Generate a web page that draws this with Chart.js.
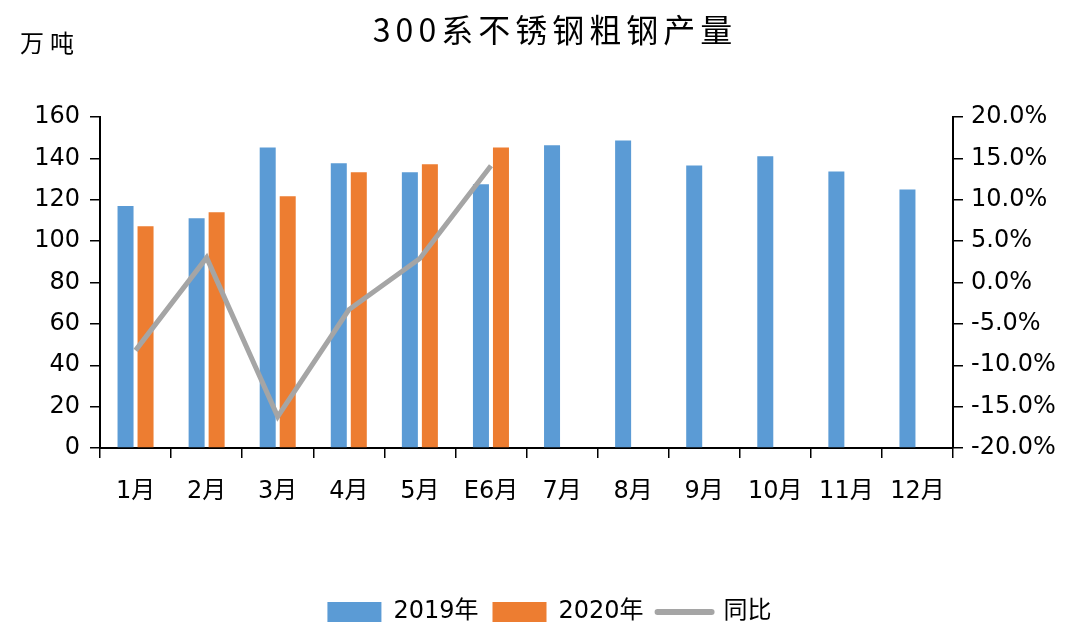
<!DOCTYPE html>
<html><head><meta charset="utf-8">
<script src="https://cdn.jsdelivr.net/npm/chart.js@4/dist/chart.umd.min.js"></script>
<style>html,body{margin:0;padding:0;background:#fff;}#wrap{width:1079px;height:627px;}</style>
</head><body><div id="wrap"><canvas id="c" width="1079" height="627"></canvas></div>
<script>
const chartTitle = '300系不锈钢粗钢产量';
const unitLabel = '万吨';
const categories = ['1月','2月','3月','4月','5月','E6月','7月','8月','9月','10月','11月','12月'];
const output2019 = [117, 111, 145.3, 137.6, 133.3, 127.5, 146.3, 148.7, 136.6, 141, 133.7, 125];
const output2020 = [107.2, 113.9, 121.7, 133.3, 137.1, 145.3, null, null, null, null, null, null];
const yoyPct = [-8.2, 3.0, -16.2, -3.3, 2.9, 14.1, null, null, null, null, null, null];
const seriesNames = ['2019年', '2020年', '同比'];
const leftMin = 0, leftMax = 160, leftStep = 20;
const rightMin = -20, rightMax = 20, rightStep = 5;

const FONT = "'DejaVu Sans', 'Noto Sans CJK SC', sans-serif";
const C_BLUE = '#5B9BD5', C_ORANGE = '#ED7D31', C_GRAY = '#A5A5A5';

const textPlugin = {
  id: 'textPlugin',
  afterLayout(chart) {
    if (chart.legend) {
      chart.legend.top += 7; chart.legend.bottom += 7;
      chart.legend.left += 10; chart.legend.right += 10;
    }
  },
  afterDraw(chart) {
    const ctx = chart.ctx;
    ctx.save();
    ctx.fillStyle = '#000';
    ctx.textBaseline = 'middle';
    ctx.textAlign = 'center';
    ctx.font = "32px 'Noto Sans CJK SC', sans-serif";
    ctx.letterSpacing = '5px';
    ctx.fillText(chartTitle, 555, 30);
    ctx.font = "24px 'Noto Sans CJK SC', sans-serif";
    ctx.letterSpacing = '6px';
    ctx.fillText(unitLabel, 50, 43);
    ctx.restore();
  }
};

const axisLine = {display: true, color: '#000', width: 2};

new Chart(document.getElementById('c'), {
  type: 'bar',
  data: {
    labels: categories,
    datasets: [
      {label: seriesNames[0], data: output2019, backgroundColor: C_BLUE, yAxisID: 'y', order: 2,
        categoryPercentage: 0.563, barPercentage: 0.8},
      {label: seriesNames[1], data: output2020, backgroundColor: C_ORANGE, yAxisID: 'y', order: 2,
        categoryPercentage: 0.563, barPercentage: 0.8},
      {type: 'line', label: seriesNames[2], data: yoyPct, borderColor: C_GRAY, backgroundColor: C_GRAY,
        borderWidth: 5, pointRadius: 0, tension: 0, yAxisID: 'y1', order: 1, spanGaps: false}
    ]
  },
  options: {
    responsive: false,
    animation: false,
    devicePixelRatio: 1,
    layout: {padding: {top: 117, left: 0, right: 0, bottom: 0}},
    plugins: {
      title: {display: false},
      tooltip: {enabled: false},
      legend: {
        display: true,
        position: 'bottom',
        labels: {
          font: {family: FONT, size: 24},
          color: '#000',
          usePointStyle: true,
          pointStyleWidth: 54,
          boxHeight: 20,
          padding: 14,
          generateLabels(chart) {
            return chart.data.datasets.map((ds, i) => ({
              text: ds.label,
              fillStyle: ds.type === 'line' ? C_GRAY : ds.backgroundColor,
              strokeStyle: ds.type === 'line' ? C_GRAY : ds.backgroundColor,
              lineWidth: ds.type === 'line' ? 6 : 0,
              pointStyle: ds.type === 'line' ? 'line' : 'rect',
              lineCap: 'round',
              hidden: false,
              datasetIndex: i,
              fontColor: '#000'
            }));
          }
        }
      }
    },
    scales: {
      x: {
        offset: true,
        grid: {display: true, drawOnChartArea: false, offset: true, tickLength: 10, color: '#000', lineWidth: 1.5},
        border: axisLine,
        ticks: {font: {family: FONT, size: 24}, color: '#000', padding: 19, maxRotation: 0, autoSkip: false},
        afterFit(s) { s.height = 131; }
      },
      y: {
        position: 'left',
        min: leftMin, max: leftMax,
        grid: {display: true, drawOnChartArea: false, tickLength: 10, color: '#000', lineWidth: 1.5},
        border: axisLine,
        ticks: {stepSize: leftStep, font: {family: FONT, size: 24}, color: '#000', padding: 10},
        afterFit(s) { s.width = 100; }
      },
      y1: {
        position: 'right',
        min: rightMin, max: rightMax,
        grid: {display: true, drawOnChartArea: false, tickLength: 10, color: '#000', lineWidth: 1.5},
        border: axisLine,
        ticks: {stepSize: rightStep, font: {family: FONT, size: 24}, color: '#000', padding: 8,
          callback: v => v.toFixed(1) + '%'},
        afterFit(s) { s.width = 126; }
      }
    }
  },
  plugins: [textPlugin]
});
</script>
</body></html>
